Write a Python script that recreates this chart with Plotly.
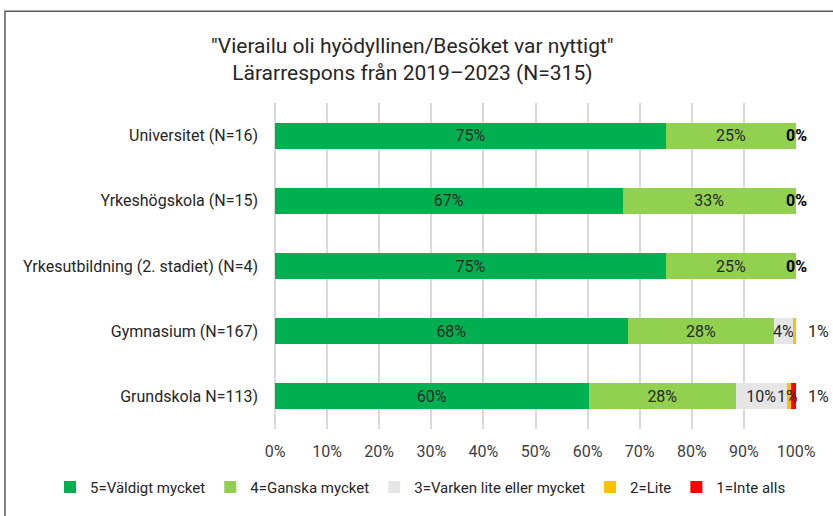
import plotly.graph_objects as go

# Data (percent of responses per school level)
categories = ["Universitet (N=16)", "Yrkeshögskola (N=15)", "Yrkesutbildning (2. stadiet) (N=4)",
              "Gymnasium (N=167)", "Grundskola N=113)"]
series_names = ["5=Väldigt mycket", "4=Ganska mycket", "3=Varken lite eller mycket", "2=Lite", "1=Inte alls"]
v5 = [75.0, 66.7, 75.0, 67.7, 60.2]
v4 = [25.0, 33.3, 25.0, 28.1, 28.3]
v3 = [0.0, 0.0, 0.0, 3.6, 9.7]
v2 = [0.0, 0.0, 0.0, 0.6, 0.9]
v1 = [0.0, 0.0, 0.0, 0.0, 0.9]
tick_vals = list(range(0, 101, 10))

colors = ["#00B050", "#92D050", "#E7E6E6", "#FFC000", "#FF0000"]
all_series = [v5, v4, v3, v2, v1]
font_family = "Roboto, Liberation Sans, Arial, sans-serif"
txt_color = "#262626"

fig = go.Figure()
for name, vals, col in zip(series_names, all_series, colors):
    fig.add_trace(go.Bar(
        y=categories, x=vals, name=name, orientation="h",
        marker=dict(color=col, line=dict(width=0)),
        text=[f"{round(v)}%" if v >= 3 else "" for v in vals],
        textposition="inside", insidetextanchor="middle", constraintext="none", textangle=0,
        textfont=dict(size=16, color=txt_color, family=font_family),
        hoverinfo="x+y+name",
    ))

# labels for tiny / zero segments
annotations = []
for i, cat in enumerate(categories):
    rest = [s[i] for s in all_series[2:]]
    if sum(rest) == 0:
        annotations.append(dict(x=100, y=cat, xref="x", yref="y", text="<b>0%</b>", showarrow=False,
                                font=dict(size=16, color="#000000", family=font_family)))
        continue
    cum = 0.0
    nonzero = [k for k, s in enumerate(all_series) if s[i] > 0]
    for k, s in enumerate(all_series):
        v = s[i]
        if 0 < v < 3:
            if k == nonzero[-1]:
                annotations.append(dict(x=100, y=cat, xref="x", yref="y", text=f"{round(v)}%",
                                        showarrow=False, xanchor="left", xshift=10,
                                        font=dict(size=16, color=txt_color, family=font_family)))
            else:
                annotations.append(dict(x=cum + v / 2, y=cat, xref="x", yref="y", text=f"{round(v)}%",
                                        showarrow=False, xshift=-1,
                                        font=dict(size=16, color=txt_color, family=font_family)))
        cum += v

fig.update_layout(
    barmode="stack",
    bargap=0.6,
    width=833, height=516,
    margin=dict(l=275, r=37, t=103, b=83),
    paper_bgcolor="white", plot_bgcolor="white",
    font=dict(family=font_family, size=16, color="#404040"),
    title=dict(text='"Vierailu oli hyödyllinen/Besöket var nyttigt"<br>Lärarrespons från 2019–2023 (N=315)',
               x=0.495, xref="container", xanchor="center",
               y=1 - 53 / 516, yref="container", yanchor="top",
               font=dict(size=21, color="#262626", family=font_family)),
    xaxis=dict(range=[0, 100], tickvals=tick_vals, ticktext=[f"{v}%" for v in tick_vals],
               showgrid=True, gridcolor="#D9D9D9", gridwidth=1.5, zeroline=True,
               zerolinecolor="#D9D9D9", zerolinewidth=1.5,
               showline=False, ticklabelstandoff=11,
               tickfont=dict(size=16, color="#404040")),
    yaxis=dict(autorange="reversed", showgrid=False, showline=False, ticklabelstandoff=16,
               tickfont=dict(size=16, color="#262626")),
    legend=dict(orientation="h", xref="paper", x=(50 - 275) / 521, xanchor="left",
                yref="paper", y=(433 - 492) / 330, yanchor="middle",
                traceorder="normal", itemwidth=30, bgcolor="rgba(0,0,0,0)",
                font=dict(size=15, color="#262626")),
    annotations=annotations,
    shapes=[dict(type="rect", xref="paper", yref="paper",
                 x0=(5 - 275) / 521, x1=(845 - 275) / 521,
                 y0=(433 - 530) / 330, y1=(433 - 10) / 330,
                 line=dict(color="#595959", width=1.5), layer="below")],
)

fig.write_html("out.html", config={"displayModeBar": False},
               post_script="document.body.style.margin='0';")
